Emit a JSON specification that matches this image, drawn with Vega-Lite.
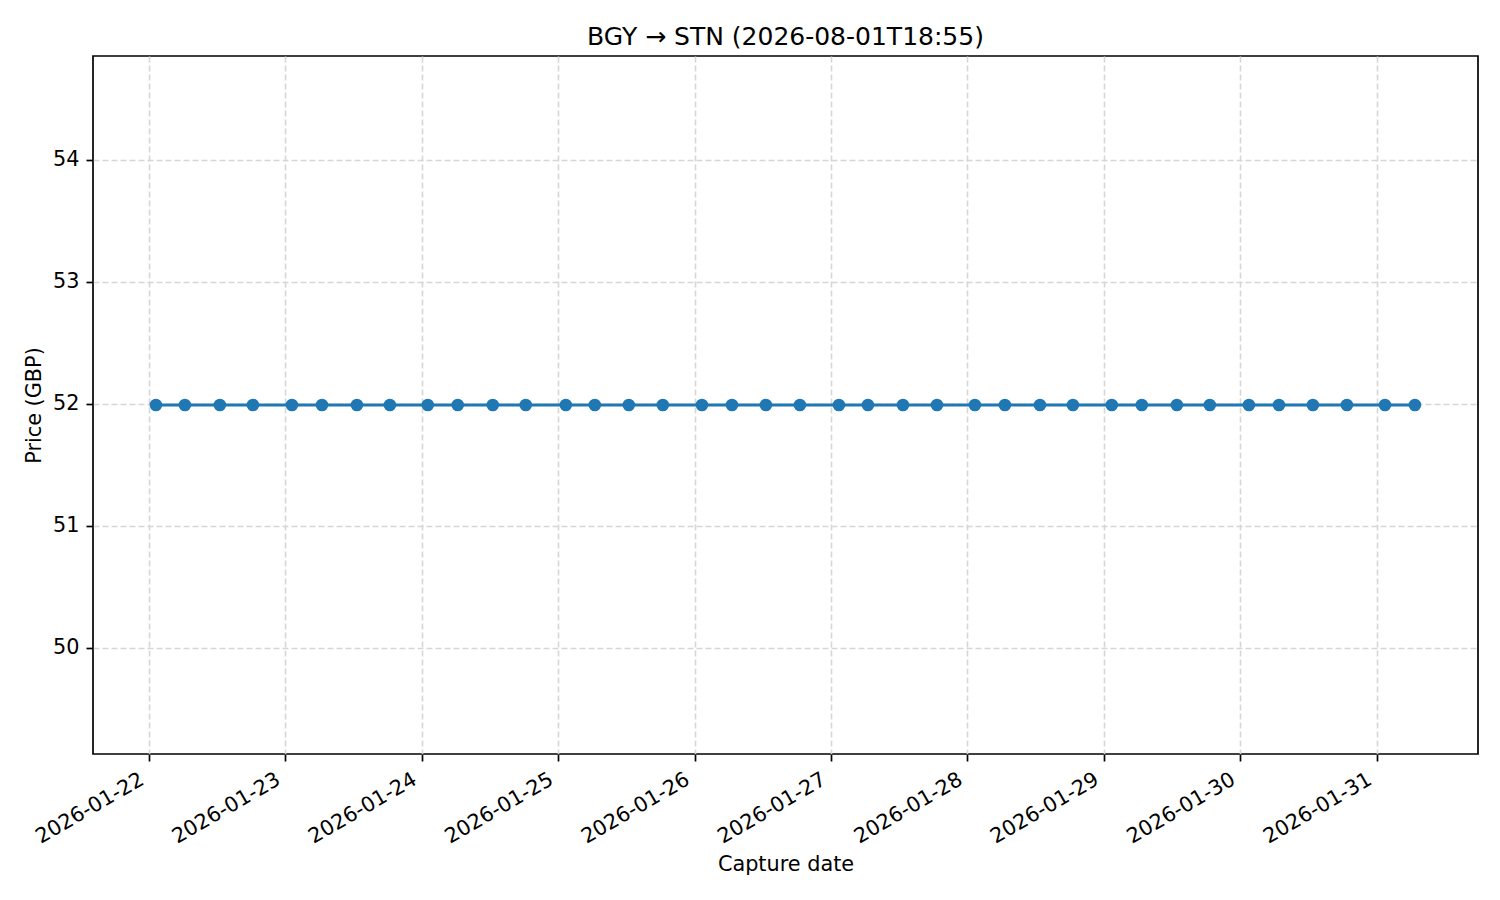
{
  "$schema": "https://vega.github.io/schema/vega-lite/v6.json",
  "width": 1385,
  "height": 698,
  "autosize": {"type": "none"},
  "padding": {"left": 93, "top": 56, "right": 22, "bottom": 146},
  "background": "white",
  "title": {
    "text": "BGY → STN (2026-08-01T18:55)",
    "font": "DejaVu Sans",
    "fontSize": 25,
    "fontWeight": "normal",
    "color": "black",
    "anchor": "middle",
    "baseline": "bottom",
    "offset": 8,
    "dy": 27
  },
  "data": {
    "values": [
      {"captured": "2026-01-22T01:14", "price": 51.99},
      {"captured": "2026-01-22T06:20", "price": 51.99},
      {"captured": "2026-01-22T12:29", "price": 51.99},
      {"captured": "2026-01-22T18:18", "price": 51.99},
      {"captured": "2026-01-23T01:10", "price": 51.99},
      {"captured": "2026-01-23T06:27", "price": 51.99},
      {"captured": "2026-01-23T12:36", "price": 51.99},
      {"captured": "2026-01-23T18:24", "price": 51.99},
      {"captured": "2026-01-24T01:04", "price": 51.99},
      {"captured": "2026-01-24T06:20", "price": 51.99},
      {"captured": "2026-01-24T12:30", "price": 51.99},
      {"captured": "2026-01-24T18:18", "price": 51.99},
      {"captured": "2026-01-25T01:21", "price": 51.99},
      {"captured": "2026-01-25T06:27", "price": 51.99},
      {"captured": "2026-01-25T12:26", "price": 51.99},
      {"captured": "2026-01-25T18:25", "price": 51.99},
      {"captured": "2026-01-26T01:18", "price": 51.99},
      {"captured": "2026-01-26T06:35", "price": 51.99},
      {"captured": "2026-01-26T12:33", "price": 51.99},
      {"captured": "2026-01-26T18:32", "price": 51.99},
      {"captured": "2026-01-27T01:24", "price": 51.99},
      {"captured": "2026-01-27T06:30", "price": 51.99},
      {"captured": "2026-01-27T12:40", "price": 51.99},
      {"captured": "2026-01-27T18:39", "price": 51.99},
      {"captured": "2026-01-28T01:19", "price": 51.99},
      {"captured": "2026-01-28T06:36", "price": 51.99},
      {"captured": "2026-01-28T12:46", "price": 51.99},
      {"captured": "2026-01-28T18:34", "price": 51.99},
      {"captured": "2026-01-29T01:24", "price": 51.99},
      {"captured": "2026-01-29T06:41", "price": 51.99},
      {"captured": "2026-01-29T12:51", "price": 51.99},
      {"captured": "2026-01-29T18:39", "price": 51.99},
      {"captured": "2026-01-30T01:32", "price": 51.99},
      {"captured": "2026-01-30T06:49", "price": 51.99},
      {"captured": "2026-01-30T12:47", "price": 51.99},
      {"captured": "2026-01-30T18:46", "price": 51.99},
      {"captured": "2026-01-31T01:28", "price": 51.99},
      {"captured": "2026-01-31T06:44", "price": 51.99}
    ]
  },
  "encoding": {
    "x": {
      "field": "captured",
      "type": "temporal",
      "title": "Capture date",
      "scale": {"domain": ["2026-01-21T14:10", "2026-01-31T17:50"], "nice": false},
      "axis": {
        "format": "%Y-%m-%d",
        "tickCount": {"interval": "day", "step": 1},
        "labelAngle": -30,
        "labelAlign": "right",
        "labelBaseline": "alphabetic",
        "labelPadding": 22,
        "labelOffset": -4,
        "labelOverlap": false,
        "titlePadding": 8
      }
    },
    "y": {
      "field": "price",
      "type": "quantitative",
      "title": "Price (GBP)",
      "scale": {"domain": [49.13, 54.85], "nice": false, "zero": false},
      "axis": {
        "values": [50, 51, 52, 53, 54],
        "format": "d",
        "labelPadding": 7,
        "titlePadding": 8
      }
    }
  },
  "layer": [
    {"mark": {"type": "line", "color": "#1f77b4", "strokeWidth": 3}},
    {"mark": {"type": "point", "filled": true, "size": 160, "color": "#1f77b4", "opacity": 1}}
  ],
  "config": {
    "view": {"stroke": "black", "strokeWidth": 1.7},
    "axis": {
      "grid": true,
      "gridColor": "#d6d6d6",
      "gridDash": [6, 3],
      "gridWidth": 1.6,
      "domain": false,
      "tickColor": "black",
      "tickSize": 7,
      "tickWidth": 1.7,
      "labelFont": "DejaVu Sans",
      "labelFontSize": 20.8,
      "labelColor": "black",
      "titleFont": "DejaVu Sans",
      "titleFontSize": 20.8,
      "titleFontWeight": "normal",
      "titleColor": "black"
    }
  }
}
